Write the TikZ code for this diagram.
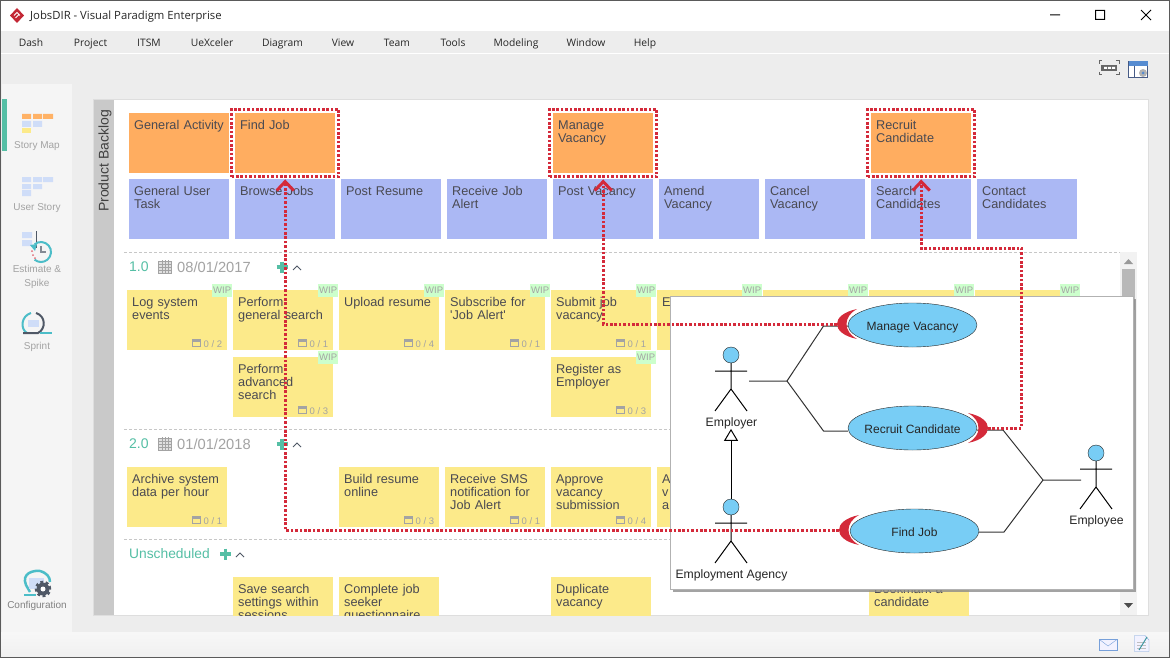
\documentclass[tikz,border=0pt]{standalone}
\usepackage{fontspec}
\setmainfont{Liberation Sans}
\newfontfamily\uifont{Open Sans}
\usetikzlibrary{arrows.meta,fit,shadows,shapes.geometric}

\definecolor{framegray}{HTML}{5A5A5A}
\definecolor{mainbg}{HTML}{EDEDED}
\definecolor{sidebg}{HTML}{F5F5F5}
\definecolor{stripgray}{HTML}{C9C9C9}
\definecolor{cardtext}{HTML}{4A4A52}
\definecolor{cardorange}{HTML}{FFAD60}
\definecolor{cardblue}{HTML}{ABB8F4}
\definecolor{cardyellow}{HTML}{FCEA8A}
\definecolor{wipgreen}{HTML}{CCFFCC}
\definecolor{mutedgray}{HTML}{A3A3A3}
\definecolor{tealgreen}{HTML}{55BFA5}
\definecolor{tealblue}{HTML}{4CBDC8}
\definecolor{vpred}{HTML}{D42A3A}
\definecolor{ucblue}{HTML}{78CDF5}
\definecolor{iconblue}{HTML}{CFDDF8}
\definecolor{icondark}{HTML}{4F5866}

\newcommand{\taskicon}{{\color{mutedgray}\rule{9pt}{8pt}\llap{\color{cardyellow}\raisebox{1.5pt}{\rule{7pt}{4pt}}\kern1pt}}}

\begin{document}
\begin{tikzpicture}
    [x=1pt,y=-1pt,
    % Window parts
    menu/.style={anchor=base, font=\uifont\fontsize{10.3}{12}\selectfont, text=black!85, inner sep=0pt},
    sidelabel/.style={anchor=base, font=\fontsize{10}{13}\selectfont, text=mutedgray, align=center, inner sep=0pt},
    % Cards of the story map
    card/.style={rectangle, inner xsep=5pt, inner ysep=0pt, text width=90pt, text height=16pt, text depth=44pt, align=left, text=cardtext, font=\fontsize{12.7}{13}\selectfont},
    activity/.style={card, fill=cardorange},
    task/.style={card, fill=cardblue},
    story/.style={card, fill=cardyellow},
    wip/.style={label={[wiptag]north east:WIP}},
    wiptag/.style={overlay, anchor=north east, xshift=5pt, yshift=6pt, label distance=0pt, fill=wipgreen, text=mutedgray, minimum width=20pt, minimum height=13pt, inner sep=0pt, font=\fontsize{9.5}{10}\selectfont},
    tasks/.style={label={[taskcount]south east:\taskicon\ #1}},
    taskcount/.style={overlay, anchor=south east, xshift=-5pt, yshift=3pt, inner sep=0pt, text=mutedgray, font=\fontsize{9.5}{10}\selectfont},
    % Release headers
    release/.style={anchor=west, inner sep=0pt, text=tealgreen, font=\fontsize{14}{16}\selectfont},
    datetext/.style={anchor=west, inner sep=0pt, text=mutedgray, font=\fontsize{14.7}{16}\selectfont},
    separator/.style={draw=black!22, dash pattern=on 3pt off 2pt},
    calendar/.pic={
        \draw[mutedgray, fill=black!12] (0,0) rectangle (13,12);
        \foreach \i in {3,6,9} \draw[mutedgray, line width=0.5pt] (0,\i) -- (13,\i);
        \foreach \i in {3.5,6.5,9.5} \draw[mutedgray, line width=0.5pt] (\i,-1) -- (\i,12);
    },
    plus/.pic={\draw[tealgreen, line width=3.5pt] (-5.5,0) -- (5.5,0) (0,-5.5) -- (0,5.5);},
    caret/.pic={\draw[icondark, line width=0.9pt] (-4,2) -- (0,-2) -- (4,2);},
    % Use case popup
    popup/.style={rectangle, draw=black!30, fill=white, minimum width=463pt, minimum height=293pt, inner sep=0pt, drop shadow={shadow xshift=3pt, shadow yshift=-3pt, fill=black!45, opacity=0.8}},
    usecase/.style={ellipse, draw=black!85, fill=ucblue, minimum width=129pt, minimum height=44pt, inner xsep=-4pt, inner ysep=0pt, text height=11pt, text depth=0pt, text=black!85, font=\fontsize{12}{14}\selectfont},
    assoc/.style={draw=black!80, line width=1pt},
    generalize/.style={draw=black, line width=1pt, -{Triangle[open, length=12pt, width=14pt, fill=white]}},
    pics/actor/.style={code={
        \draw[line width=1pt, draw=black] (0,8) -- (0,34) (-16,16) -- (16,16) (-16,56) -- (0,34) -- (16,56);
        \node[circle, draw=black!85, fill=ucblue, minimum size=16pt, inner sep=0pt] (-head) at (0,0) {};
        \node[inner sep=0pt, font=\fontsize{12.2}{14}\selectfont, text=black!85] (-label) at (0.5,68) {#1};
    }},
    cup/.pic={
        \fill[vpred] (9,-15) .. controls (-5,-12) and (-11,-6) .. (-11,0) .. controls (-11,6) and (-5,12) .. (9,15) .. controls (2,11) and (-1.5,6) .. (-1.5,0) .. controls (-1.5,-6) and (2,-11) .. (9,-15) -- cycle;
        \coordinate (-tip) at (-11,0);
    },
    % Red traces from use case to activity
    highlight/.style={draw=vpred, line width=3pt, dash pattern=on 2.6pt off 1.8pt, inner sep=3.5pt},
    trace/.style={draw=vpred, line width=3pt, dash pattern=on 2.6pt off 1.8pt, shorten >=1pt, -{Straight Barb[length=9pt, width=17pt, line width=3pt]}}]
    \useasboundingbox (0,0) rectangle (1170,658);

    % Window background
    \fill[white] (0,0) rectangle (1170,31);
    \fill[mainbg] (0,31) rectangle (1170,632);
    \draw[white, line width=0.6pt] (0,53) -- (1170,53);
    \shade[top color=white!97!black, bottom color=black!6] (0,632) rectangle (1170,658);
    \fill[sidebg] (2,84) rectangle (72,632);
    \fill[tealgreen] (2,99) rectangle (7,151);

    % Title bar
    \fill[vpred!92!black] (17,8) -- (24,15.5) -- (17,23) -- (10,15.5) -- cycle;
    \draw[white, line width=0.8pt] (14,15.5) -- (17,12.5) -- (20,15.5) (15.5,18) -- (18.5,15);
    \node[inner sep=0pt, anchor=base west, text=black!85, font=\uifont\fontsize{11.3}{13}\selectfont] (title) at (30,20) {JobsDIR - Visual Paradigm Enterprise};
    \draw[black, line width=1pt] (1050,15) -- (1060,15) (1095.5,10.5) rectangle (1104.5,19.5) (1141,10) -- (1151,20) (1151,10) -- (1141,20);

    % Menu bar
    \node[menu] (mDash) at (31,47) {Dash};
    \node[menu] (mProject) at (90.5,47) {Project};
    \node[menu] (mItsm) at (149,47) {ITSM};
    \node[menu] (mUexceler) at (212,47) {UeXceler};
    \node[menu] (mDiagram) at (282.5,47) {Diagram};
    \node[menu] (mView) at (343,47) {View};
    \node[menu] (mTeam) at (397,47) {Team};
    \node[menu] (mTools) at (453,47) {Tools};
    \node[menu] (mModeling) at (516,47) {Modeling};
    \node[menu] (mWindow) at (586,47) {Window};
    \node[menu] (mHelp) at (645,47) {Help};

    % Toolbar icons
    \fill[black!60] (1101,65) rectangle (1117,71);
    \fill[white] (1104,67) rectangle (1107,69) (1108,67) rectangle (1111,69) (1112,67) rectangle (1115,69);
    \draw[black!60, line width=1pt] (1099,64) -- (1099,61) -- (1102,61) (1116,61) -- (1119,61) -- (1119,64) (1099,72) -- (1099,75) -- (1102,75) (1116,75) -- (1119,75) -- (1119,72);
    \draw[cyan!40!blue!60!black, fill=white] (1128.5,61.5) rectangle (1147.5,77.5);
    \fill[cyan!50!blue!70] (1128.5,61.5) rectangle (1147.5,66);
    \draw[cyan!40!blue!60!black] (1134,66) -- (1134,77.5);
    \fill[black!30] (1143,73) circle[radius=4pt];
    \fill[cyan!50!blue!70] (1143,73) circle[radius=1.5pt];

    % Side bar
    \fill[orange!60] (22,114) rectangle (31,119) (33,114) rectangle (42,119) (43,114) rectangle (53,119);
    \fill[iconblue] (22,121) rectangle (31,127) (33,121) rectangle (42,127);
    \fill[cardyellow] (22,128) rectangle (31,133);
    \node[sidelabel] (lStoryMap) at (37,149) {Story Map};
    \fill[iconblue] (22,177) rectangle (31,182) (33,177) rectangle (42,182) (43,177) rectangle (53,182);
    \fill[iconblue] (22,184) rectangle (31,189) (33,184) rectangle (42,189) (22,190) rectangle (31,196);
    \node[sidelabel] (lUserStory) at (37,210.5) {User Story};
    \fill[iconblue] (22,232) rectangle (32,238) (22,240) rectangle (32,246);
    \draw[icondark, line width=0.7pt] (36,231) -- (36,248);
    \draw[tealblue, line width=2pt] (41,252) ++(-130:10) arc (-130:130:10);
    \fill[tealblue] (30,245) -- (37,244) -- (35,251) -- cycle;
    \draw[icondark!70, line width=1.2pt] (41,246) -- (41,252) -- (46,252);
    \fill[vpred!70] (32,251) circle[radius=1pt] (33,255) circle[radius=1pt] (35,258) circle[radius=1pt];
    \node[sidelabel, anchor=center] (lEstimate) at (37,277) {Estimate \&\\[1pt]Spike};
    \draw[tealblue, line width=2pt] (27,333) .. controls (20,329) and (21,316) .. (31,313);
    \draw[icondark, line width=2pt] (36,313) .. controls (46,316) and (46,329) .. (38,333) -- (23,333);
    \fill[iconblue] (28,320) rectangle (39,327);
    \draw[tealblue, line width=1.2pt] (40,333) -- (52,333);
    \node[sidelabel] (lSprint) at (37,349) {Sprint};
    \draw[tealblue, line width=2.5pt] (30,592) -- (26,585) .. controls (21,573) and (34,570) .. (40,571) .. controls (47,573) and (50,577) .. (50,582);
    \fill[iconblue] (29,578) rectangle (44,589);
    \draw[tealblue, line width=1.5pt] (24,595) -- (36,595);
    \draw[icondark, line width=2.5pt, dash pattern=on 2.8pt off 2.6pt] (43,589) circle[radius=7pt];
    \fill[icondark] (43,589) circle[radius=6.5pt];
    \fill[white] (43,589) circle[radius=2.5pt];
    \node[sidelabel, text=black!50] (lConfiguration) at (37,608.5) {Configuration};

    % Backlog panel
    \draw[black!13, fill=white] (93.5,99.5) rectangle (1148,615);
    \fill[stripgray] (94,100) rectangle (114,615);
    \node[rotate=90, inner sep=0pt, text=black!75, font=\fontsize{14}{16}\selectfont] (backlog) at (105,161) {Product Backlog};

    % Activities and user tasks
    \matrix [matrix anchor=north west, column sep=6pt, row sep=6pt, inner sep=0pt] (row0) at (129,113) {
        % row 1
        \node [activity] (general)  {General Activity};
        &\node [activity] (findjob)  {Find Job};
        & & 
        &\node [activity] (managevac)  {Manage\\Vacancy};
        & &
        &\node [activity] (recruitcand)  {Recruit\\Candidate};
        & \\
        % row 2
        \node [task] (generaltask)  {General User\\Task};
        &\node [task] (browse)  {Browse Jobs};
        &\node [task] (postresume)  {Post Resume};
        &\node [task] (receive)  {Receive Job\\Alert};
        &\node [task] (postvac)  {Post Vacancy};
        &\node [task] (amend)  {Amend\\Vacancy};
        &\node [task] (cancel)  {Cancel\\Vacancy};
        &\node [task] (searchcand)  {Search\\Candidates};
        &\node [task] (contact)  {Contact\\Candidates}; \\
    };

    % Release headers
    \draw[separator] (124,252.5) -- (1120,252.5);
    \node[release] (rel1) at (129,267) {1.0};
    \pic at (158.5,261) {calendar};
    \node[datetext] (date1) at (177,267) {08/01/2017};
    \pic at (282,267) {plus};
    \pic at (297,268) {caret};
    \draw[separator] (124,429.5) -- (1120,429.5);
    \node[release] (rel2) at (129,444) {2.0};
    \pic at (158.5,438) {calendar};
    \node[datetext] (date2) at (177,444) {01/01/2018};
    \pic at (282,444) {plus};
    \pic at (297,445) {caret};
    \draw[separator] (124,539.5) -- (1120,539.5);
    \node[release, font=\fontsize{13.8}{16}\selectfont] (unsched) at (129,554) {Unscheduled};
    \pic at (225.5,554) {plus};
    \pic at (240,555) {caret};

    % Scroll bar
    \fill[black!5] (1120,252) rectangle (1137,615);
    \fill[black!28] (1122,269) rectangle (1135,310);
    \fill[black!40] (1124,264) -- (1128.5,259) -- (1133,264) -- cycle;
    \fill[black!70] (1124,603) -- (1133,603) -- (1128.5,608) -- cycle;

    % Stories per release
    \begin{scope}
    \clip (114,100) rectangle (1148,615);
    \matrix [matrix anchor=north west, column sep=6pt, row sep=7pt, inner sep=0pt] (row1) at (127,290) {
        % release 1.0
        \node [story, wip, tasks=0 / 2] (logsystem)  {Log system\\events};
        &\node [story, wip, tasks=0 / 1] (perform)  {Perform\\general search};
        &\node [story, wip, tasks=0 / 4] (upload)  {Upload resume};
        &\node [story, wip, tasks=0 / 1] (subscribe)  {Subscribe for\\\textquotesingle Job Alert\textquotesingle};
        &\node [story, wip, tasks=0 / 1] (submit)  {Submit job\\vacancy};
        &\node [story, wip] (hiddenE)  {E};
        &\node [story, wip] (hiddenF)  {};
        &\node [story, wip] (hiddenG)  {};
        &\node [story, wip] (hiddenH)  {}; \\
        &\node [story, wip, tasks=0 / 3] (advanced)  {Perform\\advanced\\search};
        & &
        &\node [story, wip, tasks=0 / 3] (register)  {Register as\\Employer};
        & & & & \\[43pt]
        % release 2.0
        \node [story, tasks=0 / 1] (archive)  {Archive system\\data per hour};
        &
        &\node [story, tasks=0 / 3] (buildresume)  {Build resume\\online};
        &\node [story, tasks=0 / 1] (sms)  {Receive SMS\\notification for\\Job Alert};
        &\node [story, tasks=0 / 4] (approve)  {Approve\\vacancy\\submission};
        &\node [story] (hiddenA)  {A\\v\\a};
        & & & \\[43pt]
        % unscheduled
        &\node [story] (savesearch)  {Save search\\settings within\\sessions};
        &\node [story] (complete)  {Complete job\\seeker\\questionnaire};
        &
        &\node [story] (duplicate)  {Duplicate\\vacancy};
        & &
        &\node [story] (bookmark)  {Bookmark a\\candidate};
        & \\
    };
    \end{scope}

    % Use case popup
    \node[popup, anchor=north west] (usecases) at (670,296) {};
    \node[usecase] (manage) at (912.5,325) {Manage Vacancy};
    \node[usecase] (recruit) at (912.5,428) {Recruit Candidate};
    \node[usecase] (find) at (914.5,531) {Find Job};
    \pic (employer) at (731,355) {actor=Employer};
    \pic (agency) at (731,507) {actor=Employment Agency};
    \pic (employee) at (1096,453) {actor=Employee};

    % Associations
    \coordinate (employerPort) at (749,381);
    \coordinate (employerHub) at (787,381);
    \coordinate (manageElbow) at (823.5,326);
    \coordinate (recruitElbow) at (823.5,431);
    \coordinate (employeePort) at (1081,480);
    \coordinate (employeeHub) at (1043,480);
    \coordinate (recruitEastElbow) at (1003,430);
    \coordinate (findElbow) at (1004,532);
    \draw[assoc] (employerPort) -- (employerHub) -- (manageElbow) -- (manage.west |- manageElbow);
    \draw[assoc] (employerHub) -- (recruitElbow) -- (recruit.west |- recruitElbow);
    \draw[assoc] (employeePort) -- (employeeHub) -- (recruitEastElbow) -- (recruit.east |- recruitEastElbow);
    \draw[assoc] (employeeHub) -- (findElbow) -- (find.east |- findElbow);
    \draw[generalize] (agency-head.north) -- (agency-head.north |- employer-label.south);

    % Interface cups
    \pic (manageCup) at (848,324) {cup};
    \pic[xscale=-1] (recruitCup) at (977,428) {cup};
    \pic (findCup) at (850,530) {cup};

    % Traces
    \node[highlight, fit=(findjob)] (findBox) {};
    \node[highlight, fit=(managevac)] (manageBox) {};
    \node[highlight, fit=(recruitcand)] (recruitBox) {};
    \coordinate (turnRight) at (1021.5,248);
    \draw[trace] (findCup-tip) -| (findBox.south);
    \draw[trace] (manageCup-tip) -| (manageBox.south);
    \draw[trace] (recruitCup-tip) -| (turnRight) -| (recruitBox.south);

    % Status bar icons
    \draw[cyan!50!blue!55, fill=white!95!blue] (1099.5,639.5) rectangle (1117,650.5);
    \draw[cyan!50!blue!55] (1099.5,639.5) -- (1108,646) -- (1117,639.5);
    \draw[cyan!50!blue!55, fill=white!95!blue] (1134.5,635.5) -- (1145,635.5) -- (1149,640) -- (1149,651.5) -- (1134.5,651.5) -- cycle;
    \draw[black!25] (1137,642) -- (1146,642) (1137,645) -- (1146,645) (1137,648) -- (1146,648);
    \draw[tealblue!80!black, line width=1pt] (1139,650) -- (1147,637);

    % Window frame
    \draw[framegray, line width=1.5pt] (0,0) rectangle (1170,658);
\end{tikzpicture}
\end{document}
